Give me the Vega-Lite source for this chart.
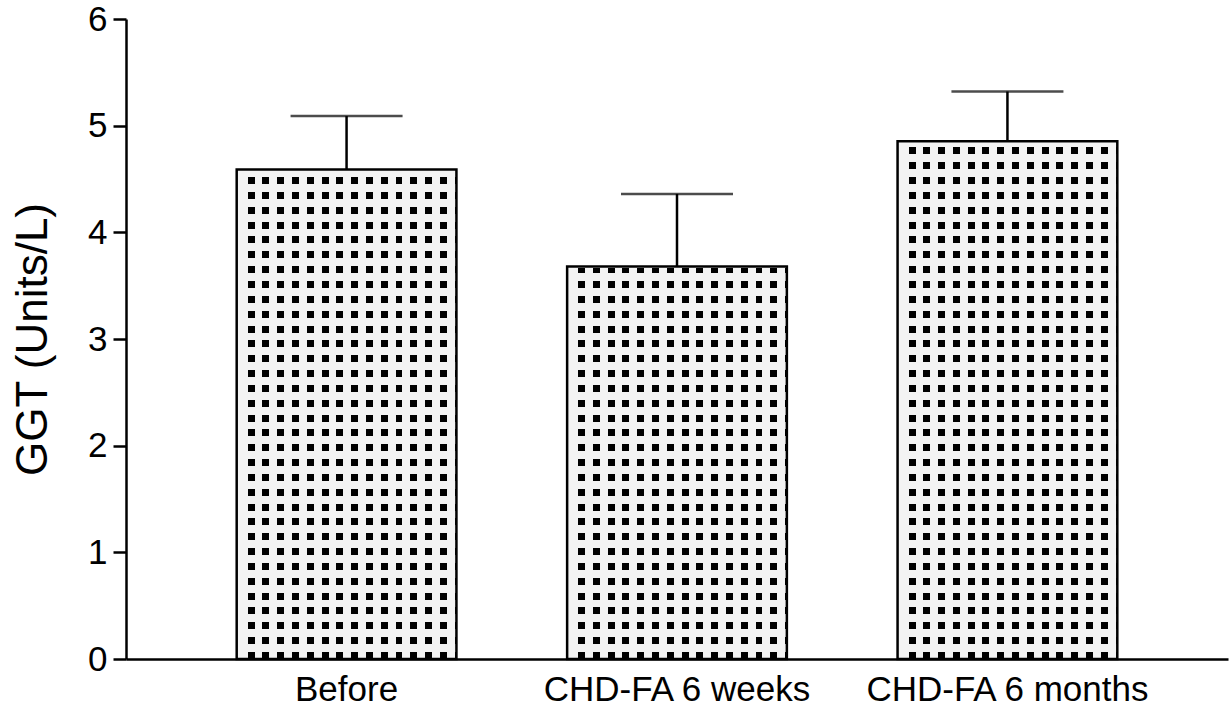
{
  "$schema": "https://vega.github.io/schema/vega-lite/v6.json",
  "autosize": {"type": "none"},
  "width": 1102,
  "height": 640,
  "padding": {"left": 126, "top": 19, "right": 3, "bottom": 55},
  "background": "white",
  "config": {
    "view": {"stroke": null},
    "font": "Liberation Sans",
    "axisY": {
      "titleFontSize": 44,
      "titleFontWeight": "normal",
      "titleColor": "black",
      "titlePadding": 32,
      "labelFontSize": 35,
      "labelColor": "black",
      "labelPadding": 6,
      "tickSize": 13,
      "tickWidth": 2.5,
      "tickColor": "black",
      "domainColor": "black",
      "domainWidth": 2.5,
      "grid": false
    },
    "axisX": {
      "labelAngle": 0,
      "labelFontSize": 35,
      "labelColor": "black",
      "labelLimit": 0,
      "labelPadding": 13,
      "ticks": false,
      "domainColor": "black",
      "domainWidth": 2.5
    }
  },
  "data": {
    "values": [
      {"group": "Before", "mean": 4.59, "upper": 5.09},
      {"group": "CHD-FA 6 weeks", "mean": 3.68, "upper": 4.36},
      {"group": "CHD-FA 6 months", "mean": 4.855, "upper": 5.32}
    ]
  },
  "encoding": {
    "x": {
      "field": "group",
      "type": "nominal",
      "sort": null,
      "scale": {"paddingInner": 0.335, "paddingOuter": 0.335},
      "axis": {"title": null}
    }
  },
  "layer": [
    {
      "mark": {
        "type": "bar",
        "fill": {
          "gradient": "linear", "x1": 0, "y1": 0, "x2": 0, "y2": 1,
          "stops": [
            {"offset": 0, "color": "#f3f3f3"},
            {"offset": 0.01519, "color": "#f3f3f3"}, {"offset": 0.01519, "color": "#000"}, {"offset": 0.02613, "color": "#000"}, {"offset": 0.02613, "color": "#f3f3f3"},
            {"offset": 0.03838, "color": "#f3f3f3"}, {"offset": 0.03838, "color": "#000"}, {"offset": 0.04931, "color": "#000"}, {"offset": 0.04931, "color": "#f3f3f3"},
            {"offset": 0.06156, "color": "#f3f3f3"}, {"offset": 0.06156, "color": "#000"}, {"offset": 0.0725, "color": "#000"}, {"offset": 0.0725, "color": "#f3f3f3"},
            {"offset": 0.08475, "color": "#f3f3f3"}, {"offset": 0.08475, "color": "#000"}, {"offset": 0.09569, "color": "#000"}, {"offset": 0.09569, "color": "#f3f3f3"},
            {"offset": 0.10794, "color": "#f3f3f3"}, {"offset": 0.10794, "color": "#000"}, {"offset": 0.11888, "color": "#000"}, {"offset": 0.11888, "color": "#f3f3f3"},
            {"offset": 0.13113, "color": "#f3f3f3"}, {"offset": 0.13113, "color": "#000"}, {"offset": 0.14206, "color": "#000"}, {"offset": 0.14206, "color": "#f3f3f3"},
            {"offset": 0.15431, "color": "#f3f3f3"}, {"offset": 0.15431, "color": "#000"}, {"offset": 0.16525, "color": "#000"}, {"offset": 0.16525, "color": "#f3f3f3"},
            {"offset": 0.1775, "color": "#f3f3f3"}, {"offset": 0.1775, "color": "#000"}, {"offset": 0.18844, "color": "#000"}, {"offset": 0.18844, "color": "#f3f3f3"},
            {"offset": 0.20069, "color": "#f3f3f3"}, {"offset": 0.20069, "color": "#000"}, {"offset": 0.21163, "color": "#000"}, {"offset": 0.21163, "color": "#f3f3f3"},
            {"offset": 0.22388, "color": "#f3f3f3"}, {"offset": 0.22388, "color": "#000"}, {"offset": 0.23481, "color": "#000"}, {"offset": 0.23481, "color": "#f3f3f3"},
            {"offset": 0.24706, "color": "#f3f3f3"}, {"offset": 0.24706, "color": "#000"}, {"offset": 0.258, "color": "#000"}, {"offset": 0.258, "color": "#f3f3f3"},
            {"offset": 0.27025, "color": "#f3f3f3"}, {"offset": 0.27025, "color": "#000"}, {"offset": 0.28119, "color": "#000"}, {"offset": 0.28119, "color": "#f3f3f3"},
            {"offset": 0.29344, "color": "#f3f3f3"}, {"offset": 0.29344, "color": "#000"}, {"offset": 0.30438, "color": "#000"}, {"offset": 0.30438, "color": "#f3f3f3"},
            {"offset": 0.31663, "color": "#f3f3f3"}, {"offset": 0.31663, "color": "#000"}, {"offset": 0.32756, "color": "#000"}, {"offset": 0.32756, "color": "#f3f3f3"},
            {"offset": 0.33981, "color": "#f3f3f3"}, {"offset": 0.33981, "color": "#000"}, {"offset": 0.35075, "color": "#000"}, {"offset": 0.35075, "color": "#f3f3f3"},
            {"offset": 0.363, "color": "#f3f3f3"}, {"offset": 0.363, "color": "#000"}, {"offset": 0.37394, "color": "#000"}, {"offset": 0.37394, "color": "#f3f3f3"},
            {"offset": 0.38619, "color": "#f3f3f3"}, {"offset": 0.38619, "color": "#000"}, {"offset": 0.39713, "color": "#000"}, {"offset": 0.39713, "color": "#f3f3f3"},
            {"offset": 0.40938, "color": "#f3f3f3"}, {"offset": 0.40938, "color": "#000"}, {"offset": 0.42031, "color": "#000"}, {"offset": 0.42031, "color": "#f3f3f3"},
            {"offset": 0.43256, "color": "#f3f3f3"}, {"offset": 0.43256, "color": "#000"}, {"offset": 0.4435, "color": "#000"}, {"offset": 0.4435, "color": "#f3f3f3"},
            {"offset": 0.45575, "color": "#f3f3f3"}, {"offset": 0.45575, "color": "#000"}, {"offset": 0.46669, "color": "#000"}, {"offset": 0.46669, "color": "#f3f3f3"},
            {"offset": 0.47894, "color": "#f3f3f3"}, {"offset": 0.47894, "color": "#000"}, {"offset": 0.48988, "color": "#000"}, {"offset": 0.48988, "color": "#f3f3f3"},
            {"offset": 0.50213, "color": "#f3f3f3"}, {"offset": 0.50213, "color": "#000"}, {"offset": 0.51306, "color": "#000"}, {"offset": 0.51306, "color": "#f3f3f3"},
            {"offset": 0.52531, "color": "#f3f3f3"}, {"offset": 0.52531, "color": "#000"}, {"offset": 0.53625, "color": "#000"}, {"offset": 0.53625, "color": "#f3f3f3"},
            {"offset": 0.5485, "color": "#f3f3f3"}, {"offset": 0.5485, "color": "#000"}, {"offset": 0.55944, "color": "#000"}, {"offset": 0.55944, "color": "#f3f3f3"},
            {"offset": 0.57169, "color": "#f3f3f3"}, {"offset": 0.57169, "color": "#000"}, {"offset": 0.58263, "color": "#000"}, {"offset": 0.58263, "color": "#f3f3f3"},
            {"offset": 0.59488, "color": "#f3f3f3"}, {"offset": 0.59488, "color": "#000"}, {"offset": 0.60581, "color": "#000"}, {"offset": 0.60581, "color": "#f3f3f3"},
            {"offset": 0.61806, "color": "#f3f3f3"}, {"offset": 0.61806, "color": "#000"}, {"offset": 0.629, "color": "#000"}, {"offset": 0.629, "color": "#f3f3f3"},
            {"offset": 0.64125, "color": "#f3f3f3"}, {"offset": 0.64125, "color": "#000"}, {"offset": 0.65219, "color": "#000"}, {"offset": 0.65219, "color": "#f3f3f3"},
            {"offset": 0.66444, "color": "#f3f3f3"}, {"offset": 0.66444, "color": "#000"}, {"offset": 0.67538, "color": "#000"}, {"offset": 0.67538, "color": "#f3f3f3"},
            {"offset": 0.68763, "color": "#f3f3f3"}, {"offset": 0.68763, "color": "#000"}, {"offset": 0.69856, "color": "#000"}, {"offset": 0.69856, "color": "#f3f3f3"},
            {"offset": 0.71081, "color": "#f3f3f3"}, {"offset": 0.71081, "color": "#000"}, {"offset": 0.72175, "color": "#000"}, {"offset": 0.72175, "color": "#f3f3f3"},
            {"offset": 0.734, "color": "#f3f3f3"}, {"offset": 0.734, "color": "#000"}, {"offset": 0.74494, "color": "#000"}, {"offset": 0.74494, "color": "#f3f3f3"},
            {"offset": 0.75719, "color": "#f3f3f3"}, {"offset": 0.75719, "color": "#000"}, {"offset": 0.76813, "color": "#000"}, {"offset": 0.76813, "color": "#f3f3f3"},
            {"offset": 0.78038, "color": "#f3f3f3"}, {"offset": 0.78038, "color": "#000"}, {"offset": 0.79131, "color": "#000"}, {"offset": 0.79131, "color": "#f3f3f3"},
            {"offset": 0.80356, "color": "#f3f3f3"}, {"offset": 0.80356, "color": "#000"}, {"offset": 0.8145, "color": "#000"}, {"offset": 0.8145, "color": "#f3f3f3"},
            {"offset": 0.82675, "color": "#f3f3f3"}, {"offset": 0.82675, "color": "#000"}, {"offset": 0.83769, "color": "#000"}, {"offset": 0.83769, "color": "#f3f3f3"},
            {"offset": 0.84994, "color": "#f3f3f3"}, {"offset": 0.84994, "color": "#000"}, {"offset": 0.86088, "color": "#000"}, {"offset": 0.86088, "color": "#f3f3f3"},
            {"offset": 0.87313, "color": "#f3f3f3"}, {"offset": 0.87313, "color": "#000"}, {"offset": 0.88406, "color": "#000"}, {"offset": 0.88406, "color": "#f3f3f3"},
            {"offset": 0.89631, "color": "#f3f3f3"}, {"offset": 0.89631, "color": "#000"}, {"offset": 0.90725, "color": "#000"}, {"offset": 0.90725, "color": "#f3f3f3"},
            {"offset": 0.9195, "color": "#f3f3f3"}, {"offset": 0.9195, "color": "#000"}, {"offset": 0.93044, "color": "#000"}, {"offset": 0.93044, "color": "#f3f3f3"},
            {"offset": 0.94269, "color": "#f3f3f3"}, {"offset": 0.94269, "color": "#000"}, {"offset": 0.95363, "color": "#000"}, {"offset": 0.95363, "color": "#f3f3f3"},
            {"offset": 0.96588, "color": "#f3f3f3"}, {"offset": 0.96588, "color": "#000"}, {"offset": 0.97681, "color": "#000"}, {"offset": 0.97681, "color": "#f3f3f3"},
            {"offset": 0.98906, "color": "#f3f3f3"}, {"offset": 0.98906, "color": "#000"}, {"offset": 1, "color": "#000"}
          ]
        }
      },
      "encoding": {
        "y": {
          "datum": 6,
          "type": "quantitative",
          "scale": {"domain": [0, 6], "nice": false},
          "axis": {
            "title": "GGT (Units/L)",
            "values": [0, 1, 2, 3, 4, 5, 6],
            "format": "d"
          }
        },
        "y2": {"datum": 0}
      }
    },
    {
      "mark": {
        "type": "bar",
        "fill": {
          "gradient": "linear", "x1": 0, "y1": 0, "x2": 1, "y2": 0,
          "stops": [
            {"offset": 0, "color": "#f3f3f3"},
            {"offset": 0.05, "color": "#f3f3f3"}, {"offset": 0.05, "color": "rgba(0,0,0,0)"}, {"offset": 0.08182, "color": "rgba(0,0,0,0)"}, {"offset": 0.08182, "color": "#f3f3f3"},
            {"offset": 0.11727, "color": "#f3f3f3"}, {"offset": 0.11727, "color": "rgba(0,0,0,0)"}, {"offset": 0.14909, "color": "rgba(0,0,0,0)"}, {"offset": 0.14909, "color": "#f3f3f3"},
            {"offset": 0.18455, "color": "#f3f3f3"}, {"offset": 0.18455, "color": "rgba(0,0,0,0)"}, {"offset": 0.21636, "color": "rgba(0,0,0,0)"}, {"offset": 0.21636, "color": "#f3f3f3"},
            {"offset": 0.25182, "color": "#f3f3f3"}, {"offset": 0.25182, "color": "rgba(0,0,0,0)"}, {"offset": 0.28364, "color": "rgba(0,0,0,0)"}, {"offset": 0.28364, "color": "#f3f3f3"},
            {"offset": 0.31909, "color": "#f3f3f3"}, {"offset": 0.31909, "color": "rgba(0,0,0,0)"}, {"offset": 0.35091, "color": "rgba(0,0,0,0)"}, {"offset": 0.35091, "color": "#f3f3f3"},
            {"offset": 0.38636, "color": "#f3f3f3"}, {"offset": 0.38636, "color": "rgba(0,0,0,0)"}, {"offset": 0.41818, "color": "rgba(0,0,0,0)"}, {"offset": 0.41818, "color": "#f3f3f3"},
            {"offset": 0.45364, "color": "#f3f3f3"}, {"offset": 0.45364, "color": "rgba(0,0,0,0)"}, {"offset": 0.48545, "color": "rgba(0,0,0,0)"}, {"offset": 0.48545, "color": "#f3f3f3"},
            {"offset": 0.52091, "color": "#f3f3f3"}, {"offset": 0.52091, "color": "rgba(0,0,0,0)"}, {"offset": 0.55273, "color": "rgba(0,0,0,0)"}, {"offset": 0.55273, "color": "#f3f3f3"},
            {"offset": 0.58818, "color": "#f3f3f3"}, {"offset": 0.58818, "color": "rgba(0,0,0,0)"}, {"offset": 0.62, "color": "rgba(0,0,0,0)"}, {"offset": 0.62, "color": "#f3f3f3"},
            {"offset": 0.65545, "color": "#f3f3f3"}, {"offset": 0.65545, "color": "rgba(0,0,0,0)"}, {"offset": 0.68727, "color": "rgba(0,0,0,0)"}, {"offset": 0.68727, "color": "#f3f3f3"},
            {"offset": 0.72273, "color": "#f3f3f3"}, {"offset": 0.72273, "color": "rgba(0,0,0,0)"}, {"offset": 0.75455, "color": "rgba(0,0,0,0)"}, {"offset": 0.75455, "color": "#f3f3f3"},
            {"offset": 0.79, "color": "#f3f3f3"}, {"offset": 0.79, "color": "rgba(0,0,0,0)"}, {"offset": 0.82182, "color": "rgba(0,0,0,0)"}, {"offset": 0.82182, "color": "#f3f3f3"},
            {"offset": 0.85727, "color": "#f3f3f3"}, {"offset": 0.85727, "color": "rgba(0,0,0,0)"}, {"offset": 0.88909, "color": "rgba(0,0,0,0)"}, {"offset": 0.88909, "color": "#f3f3f3"},
            {"offset": 0.92455, "color": "#f3f3f3"}, {"offset": 0.92455, "color": "rgba(0,0,0,0)"}, {"offset": 0.95636, "color": "rgba(0,0,0,0)"}, {"offset": 0.95636, "color": "#f3f3f3"},
            {"offset": 0.99182, "color": "#f3f3f3"}, {"offset": 0.99182, "color": "rgba(0,0,0,0)"}, {"offset": 1, "color": "rgba(0,0,0,0)"}
          ]
        }
      },
      "encoding": {
        "y": {"datum": 6, "type": "quantitative"},
        "y2": {"datum": 0}
      }
    },
    {
      "mark": {"type": "bar", "fill": "white", "stroke": "white", "strokeWidth": 3},
      "encoding": {
        "y": {"field": "mean", "type": "quantitative"},
        "y2": {"datum": 6.2}
      }
    },
    {
      "mark": {"type": "bar", "fill": null, "fillOpacity": 0, "stroke": "black", "strokeWidth": 2.5},
      "encoding": {
        "y": {"field": "mean", "type": "quantitative"},
        "y2": {"datum": 0}
      }
    },
    {
      "mark": {"type": "rule", "color": "black", "strokeWidth": 2.5},
      "encoding": {
        "y": {"field": "mean", "type": "quantitative"},
        "y2": {"field": "upper"}
      }
    },
    {
      "mark": {"type": "tick", "orient": "horizontal", "color": "black", "size": 112, "thickness": 2.5},
      "encoding": {
        "y": {"field": "upper", "type": "quantitative"}
      }
    }
  ]
}
